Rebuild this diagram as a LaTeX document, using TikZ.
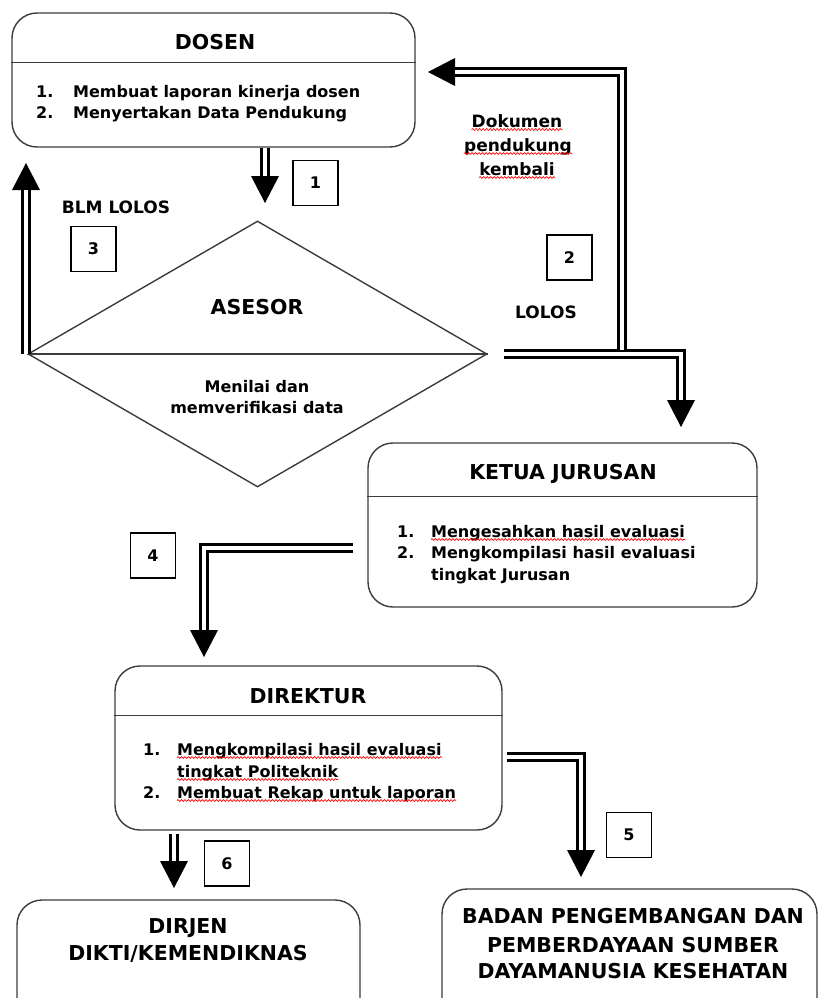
\documentclass[tikz,border=0pt]{standalone}
\usepackage{fontspec}
\setmainfont{DejaVu Sans}
\usetikzlibrary{shapes.geometric,arrows.meta,decorations.pathmorphing,calc}
\definecolor{edgegray}{HTML}{3C3C3C}
\newcommand\hdfnt{\bfseries\fontsize{20.5}{26}\selectfont}
\newcommand\bdfnt{\bfseries\fontsize{16}{22}\selectfont}
\newcommand\lbfnt{\bfseries\fontsize{17}{24}\selectfont}
\begin{document}
\begin{tikzpicture}[x=1pt,y=-1pt,
  box/.style={draw=edgegray, line width=1.4pt, rounded corners=25pt, inner sep=0pt},
  divider/.style={draw=edgegray, line width=1.4pt},
  numbox/.style={draw=black, line width=1.2pt, minimum size=45pt, inner sep=0pt, font=\bdfnt},
  txt/.style={inner sep=0pt, anchor=base west, font=\bdfnt},
  ctr/.style={inner sep=0pt, anchor=base, font=\bdfnt},
  ctxt/.style={inner sep=0pt, anchor=base, font=\hdfnt},
  lab/.style={inner sep=0pt, anchor=base, font=\lbfnt},
  dbl/.style={line width=10pt, -{Triangle[width=28pt,length=27pt,line width=0pt]},
    postaction={draw=white, line width=4pt, -, shorten >=27pt}},
  squig/.style={draw=red, line width=0.7pt, decorate,
    decoration={snake, amplitude=0.9pt, segment length=3.5pt}}
]
\useasboundingbox (0,0) rectangle (819,998);
\clip (0,0) rectangle (819,998);

% ---------- DOSEN ----------
\node[box, minimum width=403pt, minimum height=134pt] (dosen) at (213.5,80) {};
\draw[divider] ($(dosen.north west)+(0,50)$) -- ($(dosen.north east)+(0,50)$);
\node[ctxt] (dosenT) at (215,49) {DOSEN};
\node[txt] (d1n) at (36,97) {1.};
\node[txt] (d1) at (73,97) {Membuat laporan kinerja dosen};
\node[txt] (d2n) at (36,118) {2.};
\node[txt] (d2) at (73,118) {Menyertakan Data Pendukung};

% ---------- ASESOR ----------
\node[draw=edgegray, line width=1.4pt, shape=diamond, minimum width=459pt,
      minimum height=266pt, inner sep=0pt] (asesor) at (257.5,354) {};
\draw[divider] (asesor.west) -- (asesor.east);
\node[ctxt] (asesorT) at (257,314) {ASESOR};
\node[ctr] (as1) at (257,392) {Menilai dan};
\node[ctr] (as2) at (257,413) {memverifikasi data};

% ---------- KETUA JURUSAN ----------
\node[box, minimum width=389pt, minimum height=164pt] (ketua) at (562.5,525) {};
\draw[divider] ($(ketua.north west)+(0,54)$) -- ($(ketua.north east)+(0,54)$);
\node[ctxt] (ketuaT) at (563,479) {KETUA JURUSAN};
\node[txt] (k1n) at (397,537) {1.};
\node[txt] (k1) at (431,537) {Mengesahkan hasil evaluasi};
\node[txt] (k2n) at (397,558) {2.};
\node[txt] (k2) at (431,558) {Mengkompilasi hasil evaluasi};
\node[txt] (k3) at (431,580) {tingkat Jurusan};

% ---------- DIREKTUR ----------
\node[box, minimum width=387pt, minimum height=164pt] (direktur) at (308.5,748) {};
\draw[divider] ($(direktur.north west)+(0,50)$) -- ($(direktur.north east)+(0,50)$);
\node[ctxt] (direkturT) at (308,703) {DIREKTUR};
\node[txt] (r1n) at (143,755) {1.};
\node[txt] (r1) at (177,755) {Mengkompilasi hasil evaluasi};
\node[txt] (r2) at (177,777) {tingkat Politeknik};
\node[txt] (r3n) at (143,798) {2.};
\node[txt] (r3) at (177,798) {Membuat Rekap untuk laporan};

% ---------- bottom boxes ----------
\node[box, minimum width=343pt, minimum height=140pt] (dirjen) at (188.5,970) {};
\node[ctxt] (dj1) at (188,933) {DIRJEN};
\node[ctxt] (dj2) at (188,960) {DIKTI/KEMENDIKNAS};

\node[box, minimum width=375pt, minimum height=151pt] (badan) at (629.5,964.5) {};
\node[ctxt] (bd1) at (633,923) {BADAN PENGEMBANGAN DAN};
\node[ctxt] (bd2) at (633,952) {PEMBERDAYAAN SUMBER};
\node[ctxt] (bd3) at (633,978) {DAYAMANUSIA KESEHATAN};

% ---------- labels ----------
\node[lab] (blm) at (116,213) {BLM LOLOS};
\node[lab] (lolos) at (546,318) {LOLOS};
\node[lab] (dok1) at (517,127) {Dokumen};
\node[lab] (dok2) at (518,151) {pendukung};
\node[lab] (dok3) at (517,175) {kembali};

% ---------- number boxes ----------
\node[numbox] (n1) at (315.5,183) {1};
\node[numbox] (n2) at (569.5,257.5) {2};
\node[numbox] (n3) at (93.5,249) {3};
\node[numbox] (n4) at (153,555.5) {4};
\node[numbox] (n5) at (629,835) {5};
\node[numbox] (n6) at (227,863.5) {6};

% ---------- connectors ----------
\coordinate (t1) at (265,203);
\draw[dbl] (t1 |- dosen.south) -- (t1);

\coordinate (ta) at (681,427);
\draw[dbl] ([xshift=16pt]asesor.east) -| (ta);

\coordinate (b0) at (622,350);
\coordinate (t2) at (428,72);
\draw[dbl] (b0) |- (t2);

\coordinate (t3) at (26,163);
\draw[dbl] (t3 |- asesor.west) -- (t3);

\coordinate (s4) at (353,548);
\coordinate (t4) at (204,657);
\draw[dbl] (s4) -| (t4);

\coordinate (s5) at (507,757);
\coordinate (t5) at (581,877);
\draw[dbl] (s5) -| (t5);

\coordinate (t6) at (174,888);
\draw[dbl] ($(t6 |- direktur.south)+(0,3)$) -- (t6);

% ---------- spell-check underlines ----------
\foreach \w in {dok1,dok2,dok3,k1,r1,r2,r3}{
  \draw[squig] ([yshift=-2.5pt]\w.base west) -- ([yshift=-2.5pt]\w.base east);
}
\end{tikzpicture}
\end{document}
